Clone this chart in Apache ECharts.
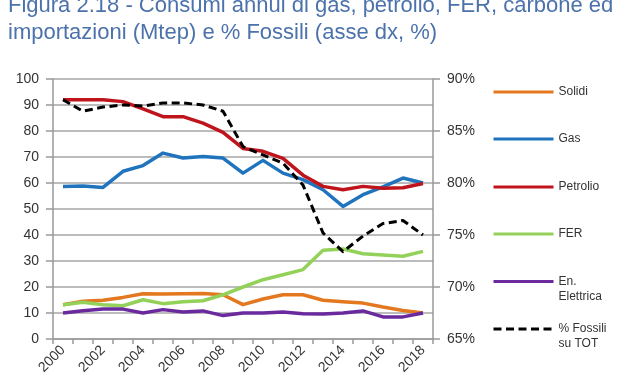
<!DOCTYPE html>
<html>
<head>
<meta charset="utf-8">
<script src="https://cdn.jsdelivr.net/npm/echarts@6/dist/echarts.min.js"></script>
<style>
html,body{margin:0;padding:0;background:#fff;}
#c{width:640px;height:380px;}
</style>
</head>
<body>
<div id="c"></div>
<script>
var years = ['2000','2001','2002','2003','2004','2005','2006','2007','2008','2009','2010','2011','2012','2013','2014','2015','2016','2017','2018'];
var solidi    = [13.2, 14.5, 14.9, 16.0, 17.4, 17.3, 17.4, 17.5, 17.0, 13.2, 15.4, 17.0, 17.0, 14.9, 14.3, 13.8, 12.3, 11.0, 10.0];
var gas       = [58.7, 58.8, 58.3, 64.5, 66.7, 71.5, 69.6, 70.2, 69.6, 63.8, 68.7, 63.8, 61.3, 57.4, 51.0, 55.5, 58.5, 61.9, 60.0];
var petrolio  = [92.0, 92.0, 92.0, 91.3, 88.5, 85.5, 85.5, 83.0, 79.5, 73.3, 72.2, 69.5, 63.0, 58.7, 57.4, 58.7, 58.0, 58.2, 59.8];
var fer       = [13.2, 14.1, 13.2, 12.8, 15.1, 13.6, 14.3, 14.7, 17.0, 20.0, 22.8, 24.7, 26.7, 34.1, 34.6, 32.8, 32.3, 31.8, 33.7];
var elettrica = [10.0, 10.9, 11.5, 11.5, 10.0, 11.3, 10.4, 10.8, 9.0, 10.0, 10.0, 10.4, 9.7, 9.6, 10.0, 10.8, 8.5, 8.5, 10.0];
var fossili   = [88.0, 86.9, 87.3, 87.5, 87.4, 87.7, 87.7, 87.5, 86.9, 83.5, 82.7, 81.9, 79.8, 75.2, 73.4, 74.9, 76.1, 76.4, 75.0];
var leftTicks = {min: 0, max: 100, interval: 10};
var rightTicks = {min: 65, max: 90, interval: 5};

var seriesNames = ['Solidi', 'Gas', 'Petrolio', 'FER', 'En. Elettrica', '% Fossili su TOT'];
var legendLabels = {'Solidi':'Solidi','Gas':'Gas','Petrolio':'Petrolio','FER':'FER','En. Elettrica':'\u00a0\nEn.\nElettrica','% Fossili su TOT':'\u00a0\n% Fossili\nsu TOT'};
var colors = ['#e3781f', '#1f74bd', '#c0141c', '#93d15a', '#6a2a9e', '#000000'];
var dataArr = [solidi, gas, petrolio, fer, elettrica, fossili];
var legendCenters = [92, 139, 187, 234, 281.5, 329];

var font = 'Liberation Sans, Arial, sans-serif';
var LH = 15;
var chart = echarts.init(document.getElementById('c'), null, {renderer: 'canvas'});

var series = seriesNames.map(function (n, i) {
  var isF = i === 5;
  return {
    name: n,
    type: 'line',
    data: dataArr[i],
    yAxisIndex: isF ? 1 : 0,
    symbol: 'none',
    smooth: false,
    z: isF ? 5 : 2,
    lineStyle: {color: colors[i], width: isF ? 3 : 3.5, type: isF ? [8, 4.5] : 'solid', join: 'round', cap: 'butt'},
    itemStyle: {color: colors[i]}
  };
});

var legends = seriesNames.map(function (n, i) {
  var isF = i === 5;
  var lines = legendLabels[n].split('\n').length;
  var h = Math.max(14, lines * LH);
  return {
    data: [n],
    left: 492,
    top: legendCenters[i] - h / 2,
    padding: 0,
    orient: 'vertical',
    itemWidth: 60,
    itemHeight: 14,
    selectedMode: false,
    itemStyle: {opacity: 0},
    lineStyle: {width: 3, type: isF ? [8, 4.5] : 'solid'},
    formatter: function (name) { return legendLabels[name]; },
    textStyle: {fontFamily: font, fontSize: 12, color: '#333', lineHeight: LH}
  };
});

chart.setOption({
  backgroundColor: '#fff',
  animation: false,
  title: {
    text: 'Figura 2.18 - Consumi annui di gas, petrolio, FER, carbone ed\nimportazioni (Mtep) e % Fossili (asse dx, %)',
    left: 8,
    top: -8,
    padding: 0,
    textStyle: {fontFamily: font, fontSize: 22, lineHeight: 27, fontWeight: 'normal', color: '#4b72ab'}
  },
  legend: legends,
  grid: {left: 53, right: 207, top: 79, bottom: 41, containLabel: false},
  xAxis: {
    type: 'category',
    data: years,
    boundaryGap: true,
    axisLine: {lineStyle: {color: '#999', width: 1.5}},
    axisTick: {show: true, interval: 0, length: 5, lineStyle: {color: '#999', width: 1.5}},
    axisLabel: {interval: 1, rotate: 45, fontFamily: font, fontSize: 14, color: '#333', margin: 9},
    splitLine: {show: false}
  },
  yAxis: [{
    type: 'value',
    min: leftTicks.min, max: leftTicks.max, interval: leftTicks.interval,
    axisLine: {show: true, lineStyle: {color: '#999', width: 1.5}},
    axisTick: {show: true, length: 7, lineStyle: {color: '#999', width: 1.5}},
    axisLabel: {fontFamily: font, fontSize: 14, color: '#333', margin: 14},
    splitLine: {show: true, lineStyle: {color: '#a6a6a6', width: 1.5}}
  }, {
    type: 'value',
    position: 'right',
    min: rightTicks.min, max: rightTicks.max, interval: rightTicks.interval,
    axisLine: {show: true, lineStyle: {color: '#999', width: 1.5}},
    axisTick: {show: true, length: 7, lineStyle: {color: '#999', width: 1.5}},
    axisLabel: {fontFamily: font, fontSize: 14, color: '#333', margin: 14, formatter: '{value}%'},
    splitLine: {show: false}
  }],
  series: series
});
</script>
</body>
</html>
